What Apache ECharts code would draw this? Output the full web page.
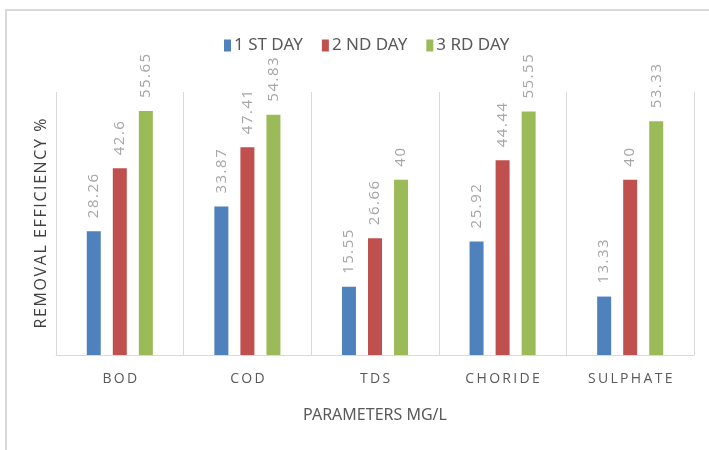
<!DOCTYPE html>
<html>
<head>
<meta charset="utf-8">
<script src="https://cdn.jsdelivr.net/npm/echarts@6/dist/echarts.min.js"></script>
<style>
  html, body { margin: 0; padding: 0; background: #fff; }
  #chart { width: 709px; height: 450px; }
</style>
</head>
<body>
<div id="chart"></div>
<script>
var categories = ["BOD", "COD", "TDS", "CHORIDE", "SULPHATE"];
var seriesNames = ["1 ST DAY", "2 ND DAY", "3 RD DAY"];
var day1 = [28.26, 33.87, 15.55, 25.92, 13.33];
var day2 = [42.6, 47.41, 26.66, 44.44, 40];
var day3 = [55.65, 54.83, 40, 55.55, 53.33];
var colors = ["#4f81bd", "#c0504d", "#9bbb59"];

var chart = echarts.init(document.getElementById("chart"));

// spread letters a bit, like the office chart
function spaced(s, sp) {
  return s.split("").join(sp);
}

function makeBar(name, data, color) {
  return {
    name: name,
    type: "bar",
    barWidth: 14,
    barGap: "86%",
    itemStyle: { color: color },
    label: {
      show: true,
      position: "top",
      rotate: 90,
      align: "left",
      verticalAlign: "middle",
      distance: 13,
      color: "#a6a6a6",
      fontSize: 15,
      fontFamily: "Open Sans",
      formatter: function (p) { return spaced(String(p.value), "\u200A"); }
    },
    data: data
  };
}

var option = {
  backgroundColor: "#fff",
  animation: false,
  graphic: [{
    type: "rect",
    shape: { x: 6, y: 10, width: 720, height: 460 },
    style: { fill: "none", stroke: "#d9d9d9", lineWidth: 2 },
    z: -1
  }],
  legend: {
    top: 32,
    left: 219,
    itemWidth: 7,
    itemHeight: 12,
    itemGap: 19,
    icon: "rect",
    textStyle: {
      color: "#595959",
      fontSize: 17,
      fontFamily: "Liberation Sans Narrow, Noto Sans",
      padding: [0, 0, 0, -2]
    },
    data: seriesNames
  },
  grid: { left: 56, right: 15, top: 92, bottom: 95 },
  xAxis: {
    type: "category",
    data: categories,
    name: "PARAMETERS MG/L",
    nameLocation: "middle",
    nameGap: 52,
    nameTextStyle: {
      color: "#595959",
      fontSize: 16,
      fontFamily: "Liberation Sans Narrow, Noto Sans"
    },
    axisLine: { show: true, lineStyle: { color: "#d9d9d9", width: 1 } },
    axisTick: { show: false },
    axisLabel: {
      color: "#595959",
      fontSize: 14,
      margin: 17,
      fontFamily: "Open Sans",
      formatter: function (v) { return spaced(v, "\u2009"); }
    },
    splitLine: { show: true, lineStyle: { color: "#d9d9d9", width: 1 } }
  },
  yAxis: {
    type: "value",
    min: 0,
    max: 60,
    name: spaced("REMOVAL EFFICIENCY %", "\u200A"),
    nameLocation: "middle",
    nameGap: 7,
    nameRotate: 90,
    nameTextStyle: {
      color: "#404040",
      fontSize: 16,
      fontFamily: "Open Sans"
    },
    axisLine: { show: false },
    axisTick: { show: false },
    axisLabel: { show: false },
    splitLine: { show: false }
  },
  series: [
    makeBar(seriesNames[0], day1, colors[0]),
    makeBar(seriesNames[1], day2, colors[1]),
    makeBar(seriesNames[2], day3, colors[2])
  ]
};

chart.setOption(option);
</script>
</body>
</html>
